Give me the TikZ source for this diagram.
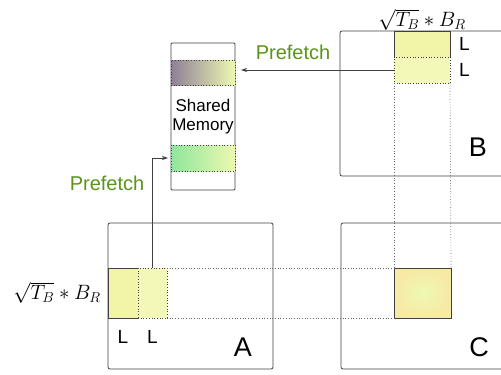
\documentclass[tikz,border=0pt]{standalone}
\usepackage{fontspec}
\setmainfont{Liberation Sans}
\usepackage{amsmath, amssymb}
\usetikzlibrary{positioning, arrows.meta}

\definecolor{edgegray}{HTML}{404040}
\definecolor{fetchgreen}{HTML}{5A9418}
\definecolor{tileyellow}{HTML}{F2F5A8}
\definecolor{tilelight}{HTML}{F3F7B8}
\definecolor{bandend}{HTML}{EEF8B0}
\definecolor{bandpurple}{HTML}{8E8096}
\definecolor{bandgreen}{HTML}{8EE69C}
\definecolor{ctileout}{HTML}{F7E9A6}
\definecolor{ctilein}{HTML}{EEF9B2}

\tikzset{
	matbox/.style={draw=edgegray, line width=0.8pt, rounded corners=2pt, inner sep=0pt, outer sep=0pt, minimum width=165pt, minimum height=146pt},
	tile/.style={draw=edgegray, line width=0.9pt, fill=tileyellow, inner sep=0pt, outer sep=0pt},
	nexttile/.style={draw=edgegray, dotted, line width=0.7pt, fill=tilelight, inner sep=0pt, outer sep=0pt},
	band/.style={draw=edgegray, dotted, line width=0.7pt, inner sep=0pt, outer sep=0pt, minimum width=64pt, minimum height=25pt, right color=bandend},
	guide/.style={draw=edgegray!80, dotted, line width=0.7pt},
	fetch/.style={draw=edgegray, line width=0.7pt, -{Stealth[length=6pt, width=4pt]}},
	fetchlabel/.style={text=fetchgreen, font=\fontsize{20}{24}\selectfont},
	sizelabel/.style={font=\fontsize{21}{25}\selectfont, inner sep=1pt},
	llabel/.style={font=\fontsize{19}{22}\selectfont, inner sep=1pt},
	matlabel/.style={font=\fontsize{27}{30}\selectfont, inner sep=0pt}
}

\begin{document}
\begin{tikzpicture}[x=1pt, y=-1pt]
	\useasboundingbox (0,0) rectangle (501,375);
	\clip (0,0) rectangle (501,375);

	% matrices
	\node[matbox] (mA) at (190.5,296) {};
	\node[matbox] (mC) at (423.5,296) {};
	\node[matbox, minimum height=145pt] (mB) at (422.5,103.5) {};
	\node[matbox, rounded corners=1pt, minimum width=64pt, minimum height=147pt] (mem) at (203,116.5) {};

	% shared memory bands
	\node[band, left color=bandpurple] (memP) at (203,72.5) {};
	\node[band, left color=bandgreen, minimum height=26pt] (memG) at (203,158) {};
	\node[font=\fontsize{17}{19}\selectfont, align=center, inner sep=0pt] (memtxt) at (203,117) {Shared\\Memory};

	% tiles
	\node[tile, minimum width=56pt, minimum height=26pt] (tB1) at (422,44) {};
	\node[nexttile, minimum width=56pt, minimum height=26pt, below=0pt of tB1] (tB2) {};
	\node[tile, minimum width=30pt, minimum height=50pt] (tA1) at (123,293) {};
	\node[nexttile, minimum width=29pt, minimum height=50pt, right=0pt of tA1] (tA2) {};
	\node[tile, draw=edgegray, inner color=ctilein, outer color=ctileout, minimum width=57pt, minimum height=50pt] (tC) at (422.5,293) {};

	% guide lines
	\draw[guide] (tB2.south west) -- (tC.north west);
	\draw[guide] (tB2.south east) -- (tC.north east);
	\draw[guide] (tA2.north east) -- (tC.north west);
	\draw[guide] (tA2.south east) -- (tC.south west);

	% prefetch arrows
	\draw[fetch, shorten >=6pt] (tB2.west) -- (tB2.west -| memP.east);
	\draw[fetch, shorten >=3pt] (tA2.north) |- (memG.west);
	\node[fetchlabel] (pfB) at (293,52) {Prefetch};
	\node[fetchlabel] (pfA) at (107,183) {Prefetch};

	% labels
	\node[sizelabel, inner sep=0pt, above=0.5pt of tB1] (szB) {$\sqrt{T_B} * B_R$};
	\node[sizelabel, left=6pt of tA1] (szA) {$\sqrt{T_B} * B_R$};
	\node[llabel, right=8pt of tB1] (lB1) {L};
	\node[llabel, right=8pt of tB2] (lB2) {L};
	\node[llabel, below=11pt of tA1] (lA1) {L};
	\node[llabel, below=11pt of tA2] (lA2) {L};
	\node[matlabel] (nA) at (243,347) {A};
	\node[matlabel] (nB) at (478,147) {B};
	\node[matlabel] (nC) at (479,347) {C};
\end{tikzpicture}
\end{document}
